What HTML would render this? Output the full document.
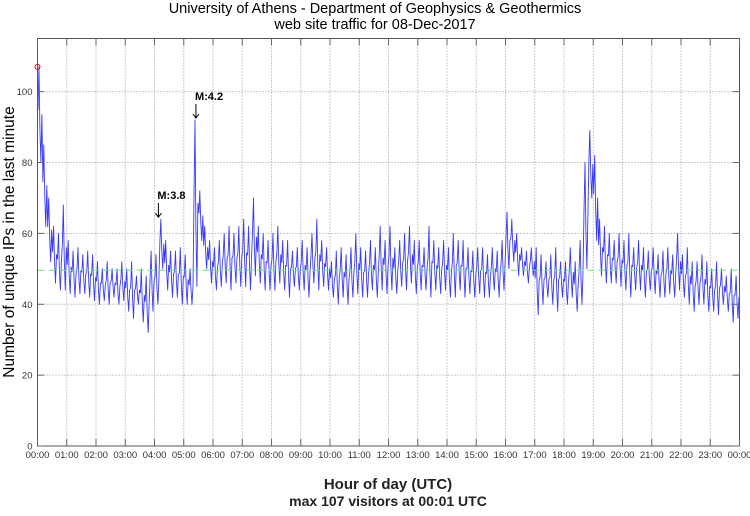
<!DOCTYPE html>
<html><head><meta charset="utf-8"><style>
body{margin:0;background:#fff;}
svg text{font-family:"Liberation Sans",sans-serif;}
</style></head><body>
<svg id="chart" width="750" height="511" viewBox="0 0 750 511">
<text x="375" y="13" text-anchor="middle" font-size="14.5">University of Athens - Department of Geophysics &amp; Geothermics</text>
<text x="375" y="29" text-anchor="middle" font-size="14.5">web site traffic for 08-Dec-2017</text>
<g id="grid"></g>
<g id="series"></g>
<rect x="37.5" y="38.5" width="702" height="407.5" fill="none" stroke="#555" stroke-width="1"/>
<g id="axes"></g>
<text transform="translate(14,242) rotate(-90)" text-anchor="middle" font-size="15.5">Number of unique IPs in the last minute</text>
<text x="388" y="489" text-anchor="middle" font-size="15" font-weight="bold" fill="#222">Hour of day (UTC)</text>
<text x="388" y="506" text-anchor="middle" font-size="14" font-weight="bold" fill="#222">max 107 visitors at 00:01 UTC</text>
<g id="annot"></g>
</svg>
<script>
const hourLabels=["00:00","01:00","02:00","03:00","04:00","05:00","06:00","07:00","08:00","09:00","10:00","11:00","12:00","13:00","14:00","15:00","16:00","17:00","18:00","19:00","20:00","21:00","22:00","23:00","00:00"];
const yTicks=[0,20,40,60,80,100];
// 10-minute bin maxima and minima (visitors)
const binHigh=[107,85,70,62,60,68, 58,55,56,54,55,54, 52,50,52,50,50,52, 50,52,48,50,48,55, 54,64,58,55,55,56, 54,50,92,72,62,58,
56,58,60,62,60,62, 64,62,70,62,60,58, 60,62,58,58,55,56, 58,56,60,64,58,56, 52,55,56,54,56,60, 56,55,58,56,62,58,
62,56,58,60,62,58, 58,56,62,58,56,58, 56,60,58,58,56,55, 56,56,54,56,55,58, 66,64,60,56,55,56, 56,54,52,54,56,52,
52,56,52,58,80,89, 82,64,62,60,58,60, 58,60,56,58,56,55, 56,54,55,56,54,60, 54,56,52,52,54,52, 50,52,50,48,50,48];
const binLow=[80,62,52,46,44,44, 43,42,43,43,42,41, 40,41,40,42,40,41, 38,36,40,35,32,38, 40,50,44,42,42,40, 40,40,45,58,50,46,
44,45,46,44,46,45, 45,44,48,46,44,44, 44,46,44,42,45,44, 44,42,46,44,45,44, 42,40,42,40,42,43, 42,42,44,42,44,43,
44,43,45,44,46,43, 44,44,42,44,43,44, 42,42,44,42,43,42, 43,42,42,44,42,44, 50,52,48,48,46,48, 37,40,42,40,38,42,
40,42,38,40,50,70, 58,48,46,46,46,45, 44,42,44,44,42,44, 43,42,42,43,42,44, 42,40,38,40,40,38, 38,37,40,38,35,36];
const meanLevel=49.6;
const maxValue=107, maxMinute=1;
const events=[{label:"M:3.8",minute:248,value:64},{label:"M:4.2",minute:325,value:92}];

const X0=37.5,X1=739.5,Y0=446,Y1=38.5,YMAX=115;
const xs=m=>X0+(X1-X0)*m/1440;
const ys=v=>Y0-(Y0-Y1)*v/YMAX;
const NS="http://www.w3.org/2000/svg";
function mk(tag,attrs,parent){const e=document.createElementNS(NS,tag);for(const k in attrs)e.setAttribute(k,attrs[k]);parent.appendChild(e);return e;}
const grid=document.getElementById('grid'),axes=document.getElementById('axes'),series=document.getElementById('series'),annot=document.getElementById('annot');
hourLabels.forEach((lab,i)=>{
  const x=xs(i*60);
  if(i>0&&i<24){const l=mk('line',{x1:x,x2:x,y1:Y1,y2:Y0,stroke:'#999','stroke-dasharray':'1,2'},grid);
  
  }
  const t1=mk('line',{x1:x,x2:x,y1:Y0,y2:Y0-7,stroke:'#666'},axes);
  
  
  const t2=mk('line',{x1:x,x2:x,y1:Y1,y2:Y1+7,stroke:'#666'},axes);
  
  
  const tx=mk('text',{x:x,y:458,'text-anchor':'middle','font-size':'9.5',fill:'#333'},axes);
  tx.textContent=lab;
  
  
});
yTicks.forEach(v=>{
  const y=ys(v);
  if(v>0){const l=mk('line',{x1:X0,x2:X1,y1:y,y2:y,stroke:'#999','stroke-dasharray':'1,2'},grid);
  
  }
  const t=mk('line',{x1:X0,x2:X0+7,y1:y,y2:y,stroke:'#666'},axes);
  
  
  const t2=mk('line',{x1:X1,x2:X1-7,y1:y,y2:y,stroke:'#666'},axes);
  
  
  const tx=mk('text',{x:X0-5,y:y+3.5,'text-anchor':'end','font-size':'9.5',fill:'#333'},axes);
  tx.textContent=v;
  
  
});
let pts=[];
binHigh.forEach((h,i)=>{
  const m0=i*10, lo=binLow[i], r=h-lo;
  pts.push([xs(m0+1),ys(lo+r*0.55)],[xs(m0+3),ys(h)],[xs(m0+5),ys(lo+r*0.35)],[xs(m0+7),ys(lo)],[xs(m0+9),ys(lo+r*0.5)]);
});
const p=mk('polyline',{points:pts.map(q=>q[0].toFixed(1)+','+q[1].toFixed(1)).join(' '),fill:'none',stroke:'#3a3aff','stroke-width':'0.9','stroke-linejoin':'round'},series);


const mean=mk('line',{x1:X0,x2:X1,y1:ys(meanLevel),y2:ys(meanLevel),stroke:'#66ee66','stroke-dasharray':'7,4','stroke-width':'1'},series);


const mx=mk('circle',{cx:xs(maxMinute)-0.5,cy:ys(maxValue),r:2.5,fill:'none',stroke:'#e00','stroke-width':'1'},series);


events.forEach(ev=>{
  const x=xs(ev.minute),y=ys(ev.value);
  const t=mk('text',{x:x-1,y:y-20,'font-size':'11','font-weight':'bold'},annot);
  t.textContent=ev.label;
  
  
  const a=mk('path',{d:`M${x} ${y-16}V${y-2}M${x-3} ${y-6}L${x} ${y-2}L${x+3} ${y-6}`,fill:'none',stroke:'#000','stroke-width':'1'},annot);
  
  
});
</script>
</body></html>
